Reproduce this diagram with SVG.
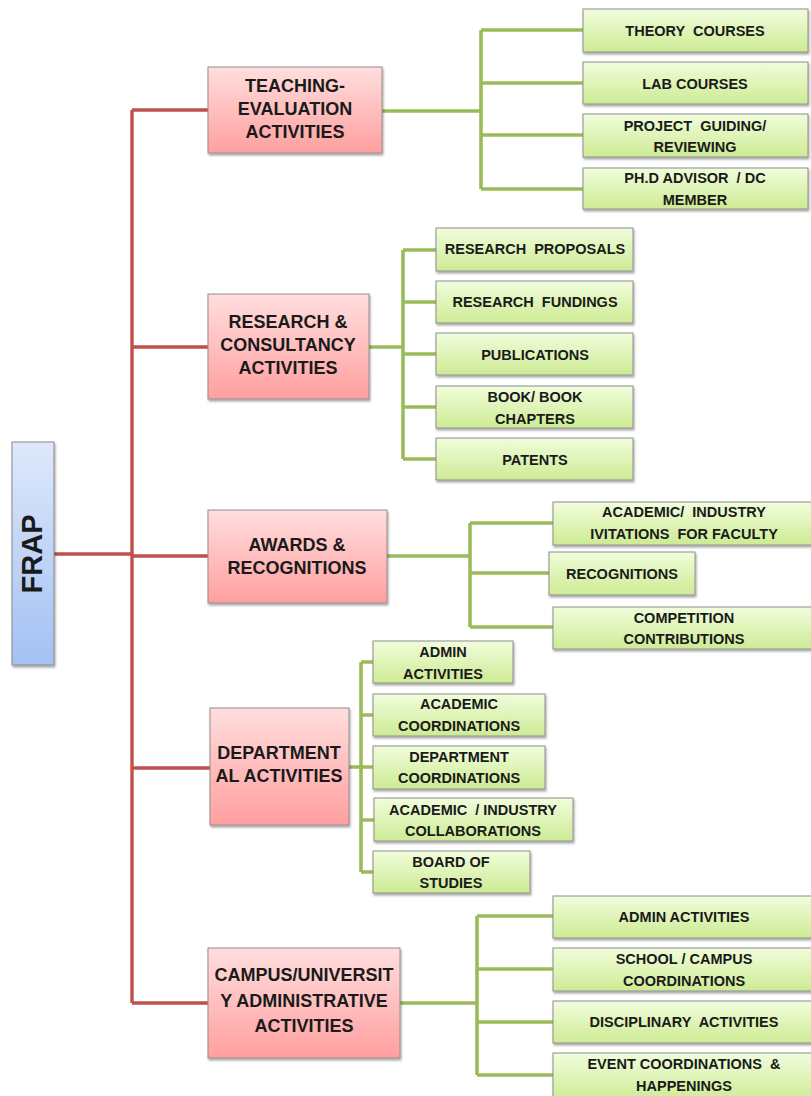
<svg xmlns="http://www.w3.org/2000/svg" width="811" height="1096" viewBox="0 0 811 1096">
<defs>
<linearGradient id="gBlue" x1="0" y1="0" x2="0" y2="1"><stop offset="0" stop-color="#DEE8FB"/><stop offset="1" stop-color="#A3C1F3"/></linearGradient>
<linearGradient id="gPink" x1="0" y1="0" x2="0" y2="1"><stop offset="0" stop-color="#FFDEDE"/><stop offset="1" stop-color="#FF9F9F"/></linearGradient>
<linearGradient id="gGreen" x1="0" y1="0" x2="0" y2="1"><stop offset="0" stop-color="#F1FDDC"/><stop offset="1" stop-color="#CDEB94"/></linearGradient>
<filter id="sh" x="-10%" y="-10%" width="130%" height="140%"><feDropShadow dx="1" dy="2" stdDeviation="1.2" flood-color="#000" flood-opacity="0.35"/></filter>
</defs>
<style>
.red{stroke:#C0504D;stroke-width:3.4;fill:none}
.grn{stroke:#9BBB59;stroke-width:3.6;fill:none}
.root{fill:url(#gBlue);stroke:#8A8A8A;stroke-width:1;filter:url(#sh)}
.pink{fill:url(#gPink);stroke:#9A8A8A;stroke-width:1;filter:url(#sh)}
.leaf{fill:url(#gGreen);stroke:#8E8E8E;stroke-width:1;filter:url(#sh)}
text{font-family:"Liberation Sans",Arial,sans-serif;font-weight:bold;fill:#1A1A1A;text-anchor:middle;white-space:pre}
.t1{font-size:18px}
.t2{font-size:14.5px}
.tr{font-size:29px}
</style>
<rect width="811" height="1096" fill="#FFFFFF"/>
<g id="connectors">
<path class="red" d="M54 554H132M132 110V1003M132 110H208M132 347H208M132 556H208M132 768H210M132 1003H208"/>
<path class="grn" d="M382 111H481M481 30V189M481 30H583M481 83H583M481 135H583M481 189H583"/>
<path class="grn" d="M369 347H403M403 250V459M403 250H436M403 302H436M403 354H436M403 407H436M403 459H436"/>
<path class="grn" d="M387 556H470M470 523V627M470 523H553M470 573H549M470 627H553"/>
<path class="grn" d="M349 767H361M361 662V872M361 662H373M361 715H373M361 767H373M361 820H374M361 872H373"/>
<path class="grn" d="M400 1003H477M477 916V1075M477 916H553M477 969H553M477 1022H553M477 1075H553"/>
</g>
<g id="frap"><rect class="root" x="12" y="442" width="42" height="223"/><text class="tr" transform="translate(42 554) rotate(-90)">FRAP</text></g>
<g id="teaching"><rect class="pink" x="208" y="67" width="174" height="86"/><text class="t1" x="295" y="92">TEACHING-</text><text class="t1" x="295" y="115">EVALUATION</text><text class="t1" x="295" y="138">ACTIVITIES</text></g>
<g id="research"><rect class="pink" x="208" y="294" width="161" height="105"/><text class="t1" x="288" y="328">RESEARCH &amp;</text><text class="t1" x="288" y="351">CONSULTANCY</text><text class="t1" x="288" y="374">ACTIVITIES</text></g>
<g id="awards"><rect class="pink" x="208" y="510" width="179" height="93"/><text class="t1" x="297" y="551">AWARDS &amp;</text><text class="t1" x="297" y="574">RECOGNITIONS</text></g>
<g id="department"><rect class="pink" x="210" y="708" width="139" height="117"/><text class="t1" x="279" y="759">DEPARTMENT</text><text class="t1" x="279" y="782">AL ACTIVITIES</text></g>
<g id="campus"><rect class="pink" x="208" y="948" width="192" height="110"/><text class="t1" x="304" y="981">CAMPUS/UNIVERSIT</text><text class="t1" x="304" y="1007">Y ADMINISTRATIVE</text><text class="t1" x="304" y="1032">ACTIVITIES</text></g>

<g id="theory"><rect class="leaf" x="583" y="9" width="225" height="43"/><text class="t2" x="695" y="36">THEORY  COURSES</text></g>
<g id="lab"><rect class="leaf" x="583" y="62" width="225" height="42"/><text class="t2" x="695" y="89">LAB COURSES</text></g>
<g id="project"><rect class="leaf" x="583" y="114" width="225" height="43"/><text class="t2" x="695" y="131">PROJECT  GUIDING/</text><text class="t2" x="695" y="152">REVIEWING</text></g>
<g id="phd"><rect class="leaf" x="583" y="168" width="225" height="41"/><text class="t2" x="695" y="183">PH.D ADVISOR  / DC</text><text class="t2" x="695" y="205">MEMBER</text></g>

<g id="proposals"><rect class="leaf" x="436" y="228" width="197" height="43"/><text class="t2" x="535" y="254">RESEARCH  PROPOSALS</text></g>
<g id="fundings"><rect class="leaf" x="436" y="281" width="197" height="42"/><text class="t2" x="535" y="307">RESEARCH  FUNDINGS</text></g>
<g id="publications"><rect class="leaf" x="436" y="333" width="197" height="42"/><text class="t2" x="535" y="360">PUBLICATIONS</text></g>
<g id="book"><rect class="leaf" x="436" y="386" width="197" height="42"/><text class="t2" x="535" y="402">BOOK/ BOOK</text><text class="t2" x="535" y="424">CHAPTERS</text></g>
<g id="patents"><rect class="leaf" x="436" y="438" width="197" height="42"/><text class="t2" x="535" y="465">PATENTS</text></g>

<g id="invitations"><rect class="leaf" x="553" y="502" width="262" height="43"/><text class="t2" x="684" y="517">ACADEMIC/  INDUSTRY</text><text class="t2" x="684" y="539">IVITATIONS  FOR FACULTY</text></g>
<g id="recognitions"><rect class="leaf" x="549" y="552" width="146" height="43"/><text class="t2" x="622" y="579">RECOGNITIONS</text></g>
<g id="competition"><rect class="leaf" x="553" y="607" width="262" height="42"/><text class="t2" x="684" y="623">COMPETITION</text><text class="t2" x="684" y="644">CONTRIBUTIONS</text></g>

<g id="dadmin"><rect class="leaf" x="373" y="641" width="140" height="42"/><text class="t2" x="443" y="657">ADMIN</text><text class="t2" x="443" y="679">ACTIVITIES</text></g>
<g id="acadcoord"><rect class="leaf" x="373" y="694" width="172" height="42"/><text class="t2" x="459" y="709">ACADEMIC</text><text class="t2" x="459" y="731">COORDINATIONS</text></g>
<g id="deptcoord"><rect class="leaf" x="373" y="746" width="172" height="43"/><text class="t2" x="459" y="762">DEPARTMENT</text><text class="t2" x="459" y="783">COORDINATIONS</text></g>
<g id="collab"><rect class="leaf" x="374" y="798" width="199" height="43"/><text class="t2" x="473" y="815">ACADEMIC  / INDUSTRY</text><text class="t2" x="473" y="836">COLLABORATIONS</text></g>
<g id="bos"><rect class="leaf" x="373" y="851" width="157" height="42"/><text class="t2" x="451" y="867">BOARD OF</text><text class="t2" x="451" y="888">STUDIES</text></g>

<g id="cadmin"><rect class="leaf" x="553" y="896" width="262" height="42"/><text class="t2" x="684" y="922">ADMIN ACTIVITIES</text></g>
<g id="school"><rect class="leaf" x="553" y="948" width="262" height="43"/><text class="t2" x="684" y="964">SCHOOL / CAMPUS</text><text class="t2" x="684" y="986">COORDINATIONS</text></g>
<g id="disciplinary"><rect class="leaf" x="553" y="1001" width="262" height="42"/><text class="t2" x="684" y="1027">DISCIPLINARY  ACTIVITIES</text></g>
<g id="event"><rect class="leaf" x="553" y="1053" width="262" height="48"/><text class="t2" x="684" y="1069">EVENT COORDINATIONS  &amp;</text><text class="t2" x="684" y="1091">HAPPENINGS</text></g>
</svg>
